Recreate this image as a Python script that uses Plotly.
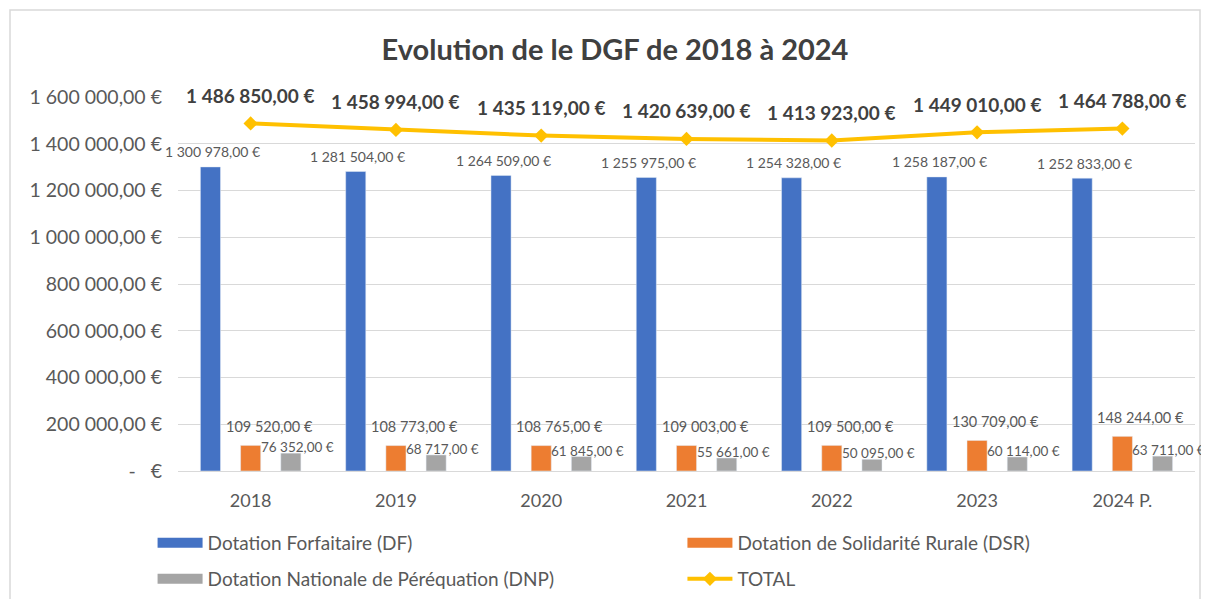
import plotly.graph_objects as go

years = ["2018", "2019", "2020", "2021", "2022", "2023", "2024 P."]
df_vals = [1300978, 1281504, 1264509, 1255975, 1254328, 1258187, 1252833]
dsr_vals = [109520, 108773, 108765, 109003, 109500, 130709, 148244]
dnp_vals = [76352, 68717, 61845, 55661, 50095, 60114, 63711]
total_vals = [1486850, 1458994, 1435119, 1420639, 1413923, 1449010, 1464788]

y_tickvals = [0, 200000, 400000, 600000, 800000, 1000000, 1200000, 1400000, 1600000]

names = ["Dotation Forfaitaire (DF)", "Dotation de Solidarité Rurale (DSR)",
         "Dotation Nationale de Péréquation (DNP)", "TOTAL"]
colors = ["#4472C4", "#ED7D31", "#A5A5A5", "#FFC000"]

FONT = "Lato"
GREY = "#595959"


def eur(v):
    s = f"{v:,.2f}".replace(",", " ").replace(".", ",")
    return s + " €"


y_ticktext = ["-   €" if v == 0 else eur(v) for v in y_tickvals]

fig = go.Figure()
for vals, nm, col in zip([df_vals, dsr_vals, dnp_vals], names[:3], colors[:3]):
    fig.add_trace(go.Bar(x=years, y=vals, name=nm, marker_color=col, showlegend=False))
fig.add_trace(go.Scatter(x=years, y=total_vals, name=names[3], mode="lines+markers",
                         line=dict(color=colors[3], width=4),
                         marker=dict(symbol="diamond", size=11, color=colors[3]),
                         legend="legend4"))
# legend swatches for bar series (wide rectangles like the original)
for k, (nm, col) in enumerate(zip(names[:3], colors[:3])):
    fig.add_trace(go.Scatter(x=[None], y=[None], mode="lines", name=nm,
                             line=dict(color=col, width=15),
                             legend="legend" if k == 0 else f"legend{k + 1}"))

ann = []
for i, yr in enumerate(years):
    ann.append(dict(x=i, y=df_vals[i], text=eur(df_vals[i]), showarrow=False,
                    xshift=-38, yshift=15, font=dict(size=14, color=GREY, family=FONT)))
    ann.append(dict(x=i, y=dsr_vals[i], text=eur(dsr_vals[i]), showarrow=False,
                    xanchor="left", xshift=-27, yshift=19,
                    font=dict(size=14.5, color=GREY, family=FONT)))
    ann.append(dict(x=i, y=dnp_vals[i], text=eur(dnp_vals[i]), showarrow=False,
                    xanchor="left", xshift=8, yshift=6,
                    font=dict(size=13.5, color=GREY, family=FONT)))
    ann.append(dict(x=i, y=total_vals[i], text="<b>" + eur(total_vals[i]) + "</b>",
                    showarrow=False, yshift=28,
                    font=dict(size=19, color="#404040", family=FONT)))

leg_common = dict(orientation="h", xanchor="left", yanchor="middle", itemwidth=45,
                  bgcolor="rgba(0,0,0,0)", font=dict(size=19, color=GREY, family=FONT))
col1 = -0.025
col2 = 0.496
row1 = -0.1925
row2 = -0.2888

fig.update_layout(
    width=1201, height=591,
    margin=dict(l=170, r=14, t=89, b=128, autoexpand=False),
    paper_bgcolor="white", plot_bgcolor="white",
    barmode="group", bargap=0.17, bargroupgap=0.5,
    font=dict(family=FONT, color=GREY, size=16),
    title=dict(text="<b>Evolution de le DGF de 2018 à 2024</b>", x=0.5054, xanchor="center",
               xref="container", y=0.93, yanchor="middle",
               font=dict(size=29, color="#404040", family=FONT)),
    xaxis=dict(type="category", categoryorder="array", categoryarray=years,
               range=[-0.5, len(years) - 0.5], autorange=False,
               showgrid=False, showline=True, linecolor="#d9d9d9",
               linewidth=1, ticks="", ticklabelstandoff=13,
               tickfont=dict(size=18, color=GREY)),
    yaxis=dict(range=[0, 1600000], autorange=False, tickvals=y_tickvals, ticktext=y_ticktext,
               showgrid=True, gridcolor="#d9d9d9", gridwidth=1, zeroline=False,
               ticks="", ticklabelstandoff=15, tickfont=dict(size=19.5, color=GREY)),
    legend=dict(x=col1, y=row1, **leg_common),
    legend2=dict(x=col2, y=row1, **leg_common),
    legend3=dict(x=col1, y=row2, **leg_common),
    legend4=dict(x=col2, y=row2, **leg_common),
    annotations=ann,
    shapes=[dict(type="rect", xref="paper", yref="paper",
                 x0=(10 - 178) / 1017, x1=(1200 - 178) / 1017,
                 y0=-0.4, y1=(471 - 10) / 374,
                 line=dict(color="#d9d9d9", width=1.5), layer="below")],
)

fig.write_html("out.html")
